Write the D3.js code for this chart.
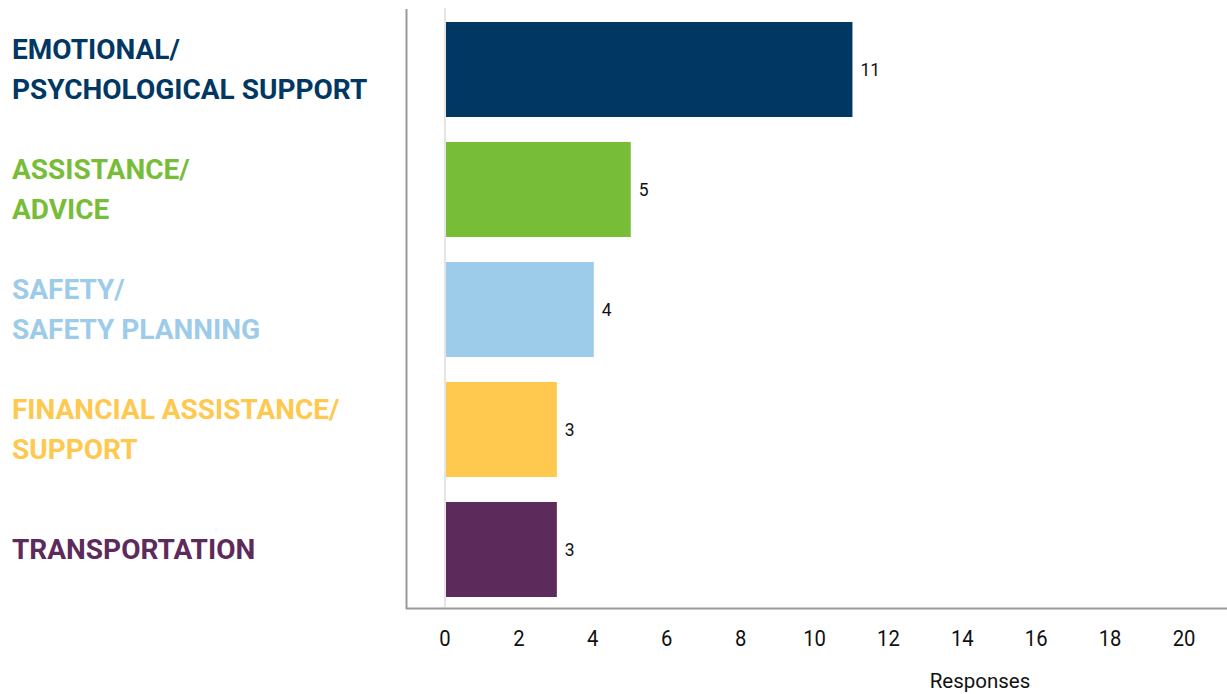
<!DOCTYPE html>
<html>
<head>
<meta charset="utf-8">
<script src="https://cdn.jsdelivr.net/npm/d3@7"></script>
<style>
  html, body { margin: 0; padding: 0; background: #fff; }
  svg { display: block; font-family: Roboto, "Noto Sans", sans-serif; }
</style>
</head>
<body>
<svg id="chart" width="1227" height="694"></svg>
<script>
// Categories (each label split into its display lines), values and colours
const categories = [
  ["EMOTIONAL/", "PSYCHOLOGICAL SUPPORT"],
  ["ASSISTANCE/", "ADVICE"],
  ["SAFETY/", "SAFETY PLANNING"],
  ["FINANCIAL ASSISTANCE/", "SUPPORT"],
  ["TRANSPORTATION"]
];
const responses = [11, 5, 4, 3, 3];
const colors = ["#003863", "#78bd38", "#9dcbea", "#ffc84f", "#5d2a5c"];
const xTicks = [0, 2, 4, 6, 8, 10, 12, 14, 16, 18, 20];
const xTitle = "Responses";

const svg = d3.select("#chart");
const keys = categories.map(c => c.join(" "));

const x = d3.scaleLinear().domain([0, 20]).range([445, 1184]);
const y = d3.scaleBand().domain(keys).range([9.5, 609.5])
  .paddingInner(0.2083).paddingOuter(0.1042);

// frame lines
svg.append("line").attr("x1", 406.5).attr("x2", 406.5).attr("y1", 9).attr("y2", 609)
  .attr("stroke", "#9a9a9a").attr("stroke-width", 2);
svg.append("line").attr("x1", 406).attr("x2", 1227).attr("y1", 608.5).attr("y2", 608.5)
  .attr("stroke", "#9a9a9a").attr("stroke-width", 2);

// zero reference line
svg.append("line").attr("x1", x(0)).attr("x2", x(0)).attr("y1", 8).attr("y2", 607)
  .attr("stroke", "#dcdcdc").attr("stroke-width", 1.5);

// bars
svg.append("g").selectAll("rect").data(responses).join("rect")
  .attr("x", x(0) + 1)
  .attr("y", (d, i) => y(keys[i]))
  .attr("width", d => x(d) - x(0))
  .attr("height", y.bandwidth())
  .attr("fill", (d, i) => colors[i]);

// value labels
svg.append("g").selectAll("text").data(responses).join("text")
  .attr("transform", (d, i) => `translate(${x(d) + 9},${y(keys[i]) + y.bandwidth() / 2}) scale(0.92,1)`)
  .attr("dy", "0.35em")
  .attr("font-size", 19)
  .attr("fill", "#111")
  .text(d => d);

// category labels
const lineGap = 40;
const lab = svg.append("g").selectAll("text").data(categories).join("text")
  .attr("x", 12)
  .attr("y", (d, i) => y(keys[i]) + y.bandwidth() / 2)
  .attr("font-size", 28)
  .attr("font-weight", 700)
  .attr("fill", (d, i) => colors[i]);
lab.each(function(d) {
  const t = d3.select(this);
  const y0 = -(d.length - 1) * lineGap / 2;
  d.forEach((line, j) => {
    t.append("tspan").attr("x", 12)
      .attr("dy", j === 0 ? (y0 / 28 + 0.35) + "em" : lineGap + "px")
      .text(line);
  });
});

// x axis tick labels
svg.append("g").selectAll("text").data(xTicks).join("text")
  .attr("transform", d => `translate(${x(d)},638) scale(0.9,1)`)
  .attr("dy", "0.35em")
  .attr("text-anchor", "middle")
  .attr("font-size", 22.5)
  .attr("fill", "#111")
  .text(d => d);

// axis title
svg.append("text")
  .attr("x", 980).attr("y", 681).attr("dy", "0.35em")
  .attr("text-anchor", "middle")
  .attr("font-size", 20.5)
  .attr("fill", "#111")
  .text(xTitle);
</script>
</body>
</html>
